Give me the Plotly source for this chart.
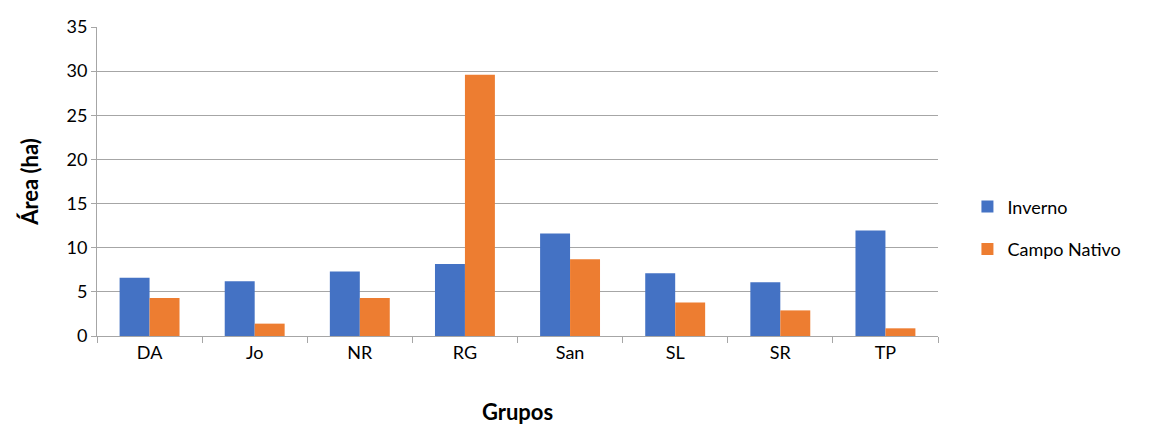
import plotly.graph_objects as go

grupos = ["DA", "Jo", "NR", "RG", "San", "SL", "SR", "TP"]
inverno = [6.6, 6.2, 7.3, 8.15, 11.6, 7.1, 6.1, 11.95]
campo_nativo = [4.3, 1.4, 4.3, 29.6, 8.7, 3.8, 2.9, 0.87]

FONT = "Lato, 'Open Sans', sans-serif"

fig = go.Figure()
fig.add_trace(go.Bar(x=grupos, y=inverno, name="Inverno", marker_color="#4472C4",
                     marker_line_width=0, legendgroup="a"))
fig.add_trace(go.Bar(x=grupos, y=campo_nativo, name="Campo Nativo", marker_color="#ED7D31",
                     marker_line_width=0, legendgroup="b"))

fig.update_layout(
    width=1157, height=428,
    margin=dict(l=89, r=227, t=19, b=100),
    plot_bgcolor="white", paper_bgcolor="white",
    font=dict(family=FONT, size=18, color="#000000"),
    barmode="group", bargap=0.43, bargroupgap=0,
    showlegend=True,
    legend=dict(x=1.035, y=0.35, xanchor="left", yanchor="middle",
                font=dict(size=18), tracegroupgap=16, traceorder="grouped",
                bgcolor="rgba(0,0,0,0)"),
    xaxis=dict(
        automargin=False,
        tickson="boundaries", ticks="outside", ticklen=6, tickcolor="#A6A6A6",
        showline=True, linecolor="#A6A6A6", linewidth=1,
        showgrid=False,
        tickfont=dict(size=18),
        title=dict(text="<b>Grupos</b>", font=dict(size=22), standoff=43),
    ),
    yaxis=dict(
        automargin=False,
        range=[0, 35], dtick=5, tick0=0,
        ticks="outside", ticklen=5, tickcolor="#A6A6A6",
        showline=True, linecolor="#A6A6A6", linewidth=1,
        showgrid=True, gridcolor="#A6A6A6", gridwidth=1,
        zeroline=False,
        tickfont=dict(size=18),
        title=dict(text="<b>Área (ha)</b>", font=dict(size=22), standoff=21),
    ),
)

fig.write_html("out.html")
